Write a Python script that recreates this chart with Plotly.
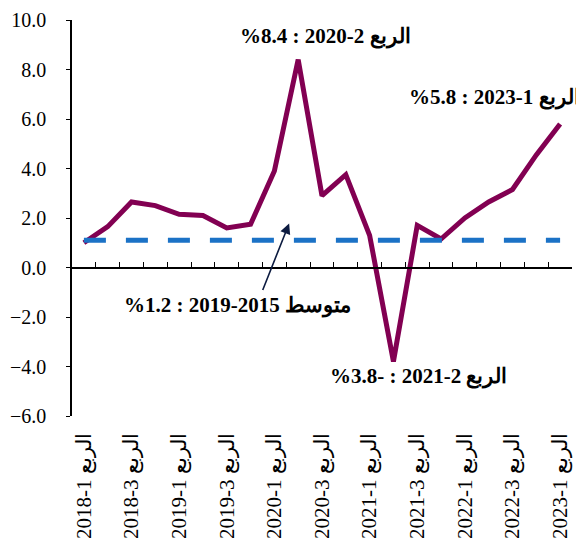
import plotly.graph_objects as go

quarters = ["2018-1", "2018-2", "2018-3", "2018-4",
            "2019-1", "2019-2", "2019-3", "2019-4",
            "2020-1", "2020-2", "2020-3", "2020-4",
            "2021-1", "2021-2", "2021-3", "2021-4",
            "2022-1", "2022-2", "2022-3", "2022-4",
            "2023-1"]
growth = [1.0, 1.65, 2.65, 2.5, 2.15, 2.1, 1.6, 1.75,
          3.9, 8.4, 2.9, 3.75, 1.3, -3.8, 1.7, 1.15,
          2.0, 2.65, 3.15, 4.55, 5.8]
avg_2015_2019 = 1.1
tick_quarters = quarters[::2]
tick_labels = [f"{q} الربع" for q in tick_quarters]

ann_peak = "%8.4 : 2020-2 الربع"
ann_last = "%5.8 : 2023-1 الربع"
ann_avg = "%1.2 : 2019-2015 متوسط"
ann_low = "%3.8- : 2021-2 الربع"

y_min, y_max = -6, 10
FONT = "Liberation Serif, Times New Roman, serif"

fig = go.Figure()
fig.add_trace(go.Scatter(
    x=quarters, y=[avg_2015_2019] * len(quarters), mode="lines",
    line=dict(color="#1B72C6", width=5, dash="22px,20px"),
    xaxis="x2", hoverinfo="skip"))
fig.add_trace(go.Scatter(
    x=quarters, y=growth, mode="lines",
    line=dict(color="#820052", width=5)))

zero_pos = (0 - y_min) / (y_max - y_min)
n = len(quarters)

fig.update_layout(
    width=576, height=539,
    margin=dict(l=64, r=12, t=12, b=131),
    paper_bgcolor="white", plot_bgcolor="white",
    showlegend=False,
    font=dict(family=FONT, color="black", size=21),
    xaxis=dict(
        type="category", categoryorder="array", categoryarray=quarters,
        range=[-0.5, n - 0.5], anchor="free", position=zero_pos,
        showline=True, linecolor="black", linewidth=1.5,
        ticks="inside", tickson="boundaries", ticklen=5, tickwidth=1.3,
        tickcolor="black", showticklabels=False, showgrid=False, zeroline=False,
        automargin=False),
    xaxis2=dict(
        type="category", categoryorder="array", categoryarray=quarters,
        range=[-0.5, n - 0.5], overlaying="x", anchor="y", side="bottom",
        tickmode="array", tickvals=tick_quarters, ticktext=tick_labels,
        tickangle=-90, ticks="", showline=False, showgrid=False, zeroline=False,
        ticklabelstandoff=12, automargin=False, ticklabeloverflow="allow",
        tickfont=dict(family=FONT, size=21, color="black")),
    yaxis=dict(
        range=[y_min, y_max], dtick=2, tickformat=".1f",
        showline=True, linecolor="black", linewidth=1.5,
        ticks="outside", ticklen=4, tickwidth=1.3, tickcolor="black",
        showgrid=False, zeroline=False, ticklabelstandoff=16, automargin=False,
        ticklabeloverflow="allow",
        tickfont=dict(family=FONT, size=20, color="black")),
)

bold = dict(family=FONT, size=21, color="black", weight="bold")
fig.add_annotation(x=10.13, y=9.32, xref="x", yref="y", text=ann_peak,
                   showarrow=False, font=bold, xanchor="center", yanchor="middle")
fig.add_annotation(x=1.02, y=(6.87 - y_min) / (y_max - y_min), xref="paper", yref="paper",
                   text=ann_last, showarrow=False, font=bold,
                   xanchor="right", yanchor="middle")
fig.add_annotation(x=6.43, y=-1.55, xref="x", yref="y", text=ann_avg,
                   showarrow=False, font=bold, xanchor="center", yanchor="middle")
fig.add_annotation(x=14.07, y=-4.4, xref="x", yref="y", text=ann_low,
                   showarrow=False, font=bold, xanchor="center", yanchor="middle")
fig.add_annotation(x=8.62, y=1.78, xref="x", yref="y", ax=-27, ay=68,
                   text="", showarrow=True, arrowhead=2, arrowsize=1.3,
                   arrowwidth=1.6, arrowcolor="#0C1B40")

fig.write_html("out.html")
